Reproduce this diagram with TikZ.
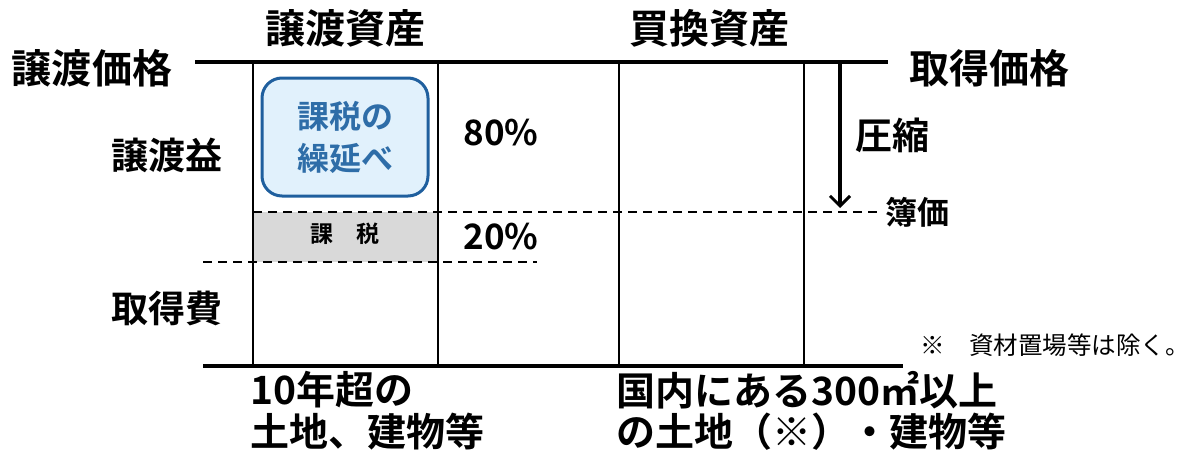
\documentclass[tikz,border=0pt]{standalone}
\usepackage{fontspec}
\setmainfont{Noto Sans CJK JP}[BoldFont={Noto Sans CJK JP Bold}]
\usetikzlibrary{arrows.meta}
\definecolor{boxblue}{HTML}{1F5F9E}
\definecolor{boxfill}{HTML}{E1F1FC}
\definecolor{txtblue}{HTML}{2E6DA8}
\definecolor{bandgray}{HTML}{D9D9D9}
\tikzset{
  lbl/.style={inner sep=0pt, font=\bfseries\fontsize{#1}{#1}\selectfont},
  solidline/.style={line width=3.2pt},
  colline/.style={line width=2.5pt},
  dashline/.style={line width=2pt, dash pattern=on 9pt off 6pt},
}
\begin{document}
\begin{tikzpicture}[x=1pt,y=-1pt]
\useasboundingbox (0,0) rectangle (1188,453);
% coordinates
\coordinate (topL) at (195,62);
\coordinate (topR) at (888,62);
\coordinate (botL) at (203,366);
\coordinate (botR) at (903,366);
\coordinate (a1t) at (253,62); \coordinate (a1b) at (253,366);
\coordinate (a2t) at (438,62); \coordinate (a2b) at (438,366);
\coordinate (b1t) at (619,62); \coordinate (b1b) at (619,366);
\coordinate (b2t) at (804,62); \coordinate (b2b) at (804,366);
\coordinate (d1L) at (253,212); \coordinate (d1R) at (878,212);
\coordinate (d2L) at (203,262); \coordinate (d2R) at (537,262);
\coordinate (arT) at (840,62); \coordinate (arB) at (840,208);
% gray band
\fill[bandgray] (253,212) rectangle (438,262);
\node[lbl=23] (kazei) at (345,234) {課　税};
% rounded box
\node[draw=boxblue, fill=boxfill, line width=3pt, rounded corners=20pt,
      minimum width=166pt, minimum height=118pt, inner sep=0pt,
      align=center, text=txtblue, font=\bfseries\fontsize{32}{42}\selectfont]
      (defer) at (345,137) {課税の\\繰延べ};
% lines
\draw[solidline] (topL) -- (topR);
\draw[solidline] (botL) -- (botR);
\draw[colline] (a1t) -- (a1b);
\draw[colline] (a2t) -- (a2b);
\draw[colline] (b1t) -- (b1b);
\draw[colline] (b2t) -- (b2b);
\draw[dashline] (d1L) -- (d1R);
\draw[dashline] (d2L) -- (d2R);
\draw[line width=3.5pt, -{Straight Barb[length=10pt,width=20pt,line width=3pt]}] (arT) -- (arB);
% labels
\node[lbl=40] (jotoshisan) at (345,28) {譲渡資産};
\node[lbl=40] (kaikaeshisan) at (709,28) {買換資産};
\node[lbl=40] (jotokakaku) at (92,68) {譲渡価格};
\node[lbl=40] (shutokukakaku) at (989,68) {取得価格};
\node[lbl=37] (jotoeki) at (167,155) {譲渡益};
\node[lbl=37] (shutokuhi) at (167,308) {取得費};
\node[lbl=35] (p80) at (501,133) {80\%};
\node[lbl=35] (p20) at (501,237) {20\%};
\node[lbl=37] (asshuku) at (892,135) {圧縮};
\node[lbl=32, anchor=west] (boka) at (885,212) {簿価};
\node[inner sep=0pt, anchor=west, font=\fontsize{24.5}{24.5}\selectfont] (note) at (920,345) {※　資材置場等は除く。};
\node[lbl=39, anchor=west] (l1) at (250,390) {10年超の};
\node[lbl=39, anchor=west] (l2) at (250,432) {土地、建物等};
\node[lbl=39, anchor=west] (r1) at (616,390) {国内にある300㎡以上};
\node[lbl=39, anchor=west] (r2) at (616,432) {の土地（※）・建物等};
\end{tikzpicture}
\end{document}
